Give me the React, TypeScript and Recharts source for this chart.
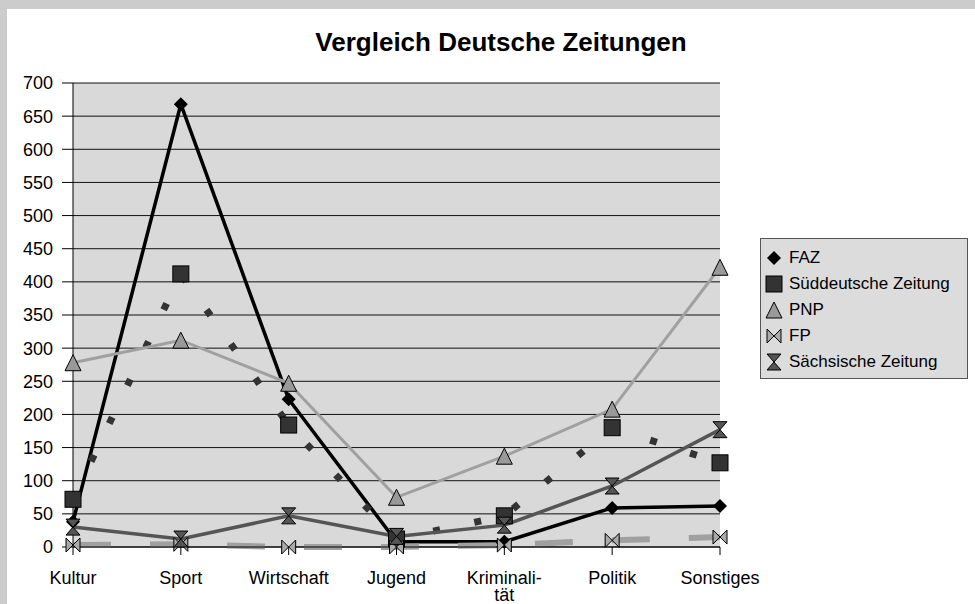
import React from 'react';
import { LineChart, Line, XAxis, YAxis, CartesianGrid, Legend } from 'recharts';

const categories = ['Kultur', 'Sport', 'Wirtschaft', 'Jugend', 'Kriminalität', 'Politik', 'Sonstiges'];
const tickText: Record<string, string[]> = {
  Kriminalität: ['Kriminali-', 'tät'],
};
const faz = [38, 668, 223, 8, 8, 59, 62];
const sueddeutsche = [72, 412, 184, 12, 47, 180, 127];
const pnp = [278, 312, 247, 75, 137, 208, 422];
const fp = [3, 4, 0, 0, 3, 10, 15];
const saechsische = [30, 12, 47, 16, 33, 92, 177];
const yTicks = [0, 50, 100, 150, 200, 250, 300, 350, 400, 450, 500, 550, 600, 650, 700];

const data = categories.map((name, i) => ({
  name,
  faz: faz[i],
  sz: sueddeutsche[i],
  pnp: pnp[i],
  fp: fp[i],
  saechs: saechsische[i],
}));

const font = '"Liberation Sans", Arial, sans-serif';

// marker shapes, drawn around (cx, cy)
function Marker({ kind, cx, cy }: { kind: string; cx: number; cy: number }) {
  if (kind === 'diamond')
    return <path d={`M${cx},${cy - 7}L${cx + 7},${cy}L${cx},${cy + 7}L${cx - 7},${cy}Z`} fill="#000" />;
  if (kind === 'square')
    return <rect x={cx - 8} y={cy - 8} width={16} height={16} fill="#333" stroke="#000" strokeWidth={1} />;
  if (kind === 'triangle')
    return <path d={`M${cx},${cy - 8}L${cx + 8},${cy + 8}L${cx - 8},${cy + 8}Z`} fill="#999" stroke="#000" strokeWidth={1} />;
  if (kind === 'bowtie')
    return (
      <path
        d={`M${cx - 7},${cy - 7}L${cx + 7},${cy + 7}L${cx + 7},${cy - 7}L${cx - 7},${cy + 7}Z`}
        fill="#aaa"
        stroke="#000"
        strokeWidth={1}
      />
    );
  return (
    <path
      d={`M${cx - 7},${cy - 8}L${cx + 7},${cy - 8}L${cx - 7},${cy + 8}L${cx + 7},${cy + 8}Z`}
      fill="#555"
      stroke="#000"
      strokeWidth={1}
    />
  );
}

const dotOf = (kind: string) => (props: any) => (
  <Marker key={`${kind}-${props.index}`} kind={kind} cx={props.cx} cy={props.cy} />
);

const series = [
  { key: 'faz', name: 'FAZ', marker: 'diamond' },
  { key: 'sz', name: 'Süddeutsche Zeitung', marker: 'square' },
  { key: 'pnp', name: 'PNP', marker: 'triangle' },
  { key: 'fp', name: 'FP', marker: 'bowtie' },
  { key: 'saechs', name: 'Sächsische Zeitung', marker: 'hourglass' },
];

function XTick({ x, y, payload }: any) {
  const lines = tickText[payload.value] || [payload.value];
  return (
    <g>
      {lines.map((t: string, i: number) => (
        <text key={i} x={x} y={y + 27 + i * 17} textAnchor="middle" fill="#000" fontSize={18} fontFamily={font}>
          {t}
        </text>
      ))}
    </g>
  );
}

function LegendBox() {
  return (
    <div
      style={{
        width: 208,
        height: 141,
        background: '#dcdcdc',
        border: '1px solid #555',
        paddingTop: 6,
        boxSizing: 'border-box',
        fontFamily: font,
        fontSize: 17,
        color: '#000',
      }}
    >
      {series.map((s) => (
        <div key={s.key} style={{ height: 26, display: 'flex', alignItems: 'center' }}>
          <svg width={28} height={20} style={{ flex: 'none' }}>
            <Marker kind={s.marker} cx={13} cy={10} />
          </svg>
          <span style={{ whiteSpace: 'nowrap' }}>{s.name}</span>
        </div>
      ))}
    </div>
  );
}

export default function App() {
  return (
    <div style={{ position: 'absolute', left: 0, top: 0, width: 975, height: 604, background: '#cccccc' }}>
      <div style={{ position: 'absolute', left: 7, top: 9, width: 968, height: 595, background: '#fff' }}>
        <div
          style={{
            position: 'absolute',
            left: 0,
            width: 988,
            top: 18,
            textAlign: 'center',
            fontFamily: font,
            fontWeight: 'bold',
            fontSize: 26,
          }}
        >
          Vergleich Deutsche Zeitungen
        </div>
        <LineChart width={968} height={595} data={data} margin={{ top: 74, right: 47, bottom: 27, left: 0 }}>
          <CartesianGrid vertical={false} fill="#d9d9d9" stroke="#111" strokeOpacity={1} />
          <XAxis
            dataKey="name"
            height={30}
            axisLine={{ stroke: '#000' }}
            tickLine={{ stroke: '#000' }}
            tickSize={8}
            tick={<XTick />}
            interval={0}
          />
          <YAxis
            width={66}
            domain={[0, 700]}
            ticks={yTicks}
            interval={0}
            axisLine={{ stroke: '#000' }}
            tickLine={{ stroke: '#000' }}
            tickSize={11}
            tickMargin={9}
            tick={{ fill: '#000', fontSize: 18, fontFamily: font }}
          />
          <Line
            dataKey="faz"
            name="FAZ"
            stroke="#000"
            strokeWidth={3.5}
            dot={dotOf('diamond')}
            activeDot={false}
            isAnimationActive={false}
          />
          <Line
            dataKey="sz"
            name="Süddeutsche Zeitung"
            stroke="#333"
            strokeWidth={7}
            strokeDasharray="7 35"
            dot={dotOf('square')}
            activeDot={false}
            isAnimationActive={false}
          />
          <Line
            dataKey="pnp"
            name="PNP"
            stroke="#a0a0a0"
            strokeWidth={3}
            dot={dotOf('triangle')}
            activeDot={false}
            isAnimationActive={false}
          />
          <Line
            dataKey="fp"
            name="FP"
            stroke="#a0a0a0"
            strokeWidth={6}
            strokeDasharray="38 39"
            dot={dotOf('bowtie')}
            activeDot={false}
            isAnimationActive={false}
          />
          <Line
            dataKey="saechs"
            name="Sächsische Zeitung"
            stroke="#555"
            strokeWidth={3.5}
            dot={dotOf('hourglass')}
            activeDot={false}
            isAnimationActive={false}
          />
          <Legend
            content={<LegendBox />}
            layout="vertical"
            align="right"
            verticalAlign="middle"
            wrapperStyle={{ position: 'absolute', left: 753, top: 229, width: 208 }}
          />
        </LineChart>
      </div>
    </div>
  );
}
